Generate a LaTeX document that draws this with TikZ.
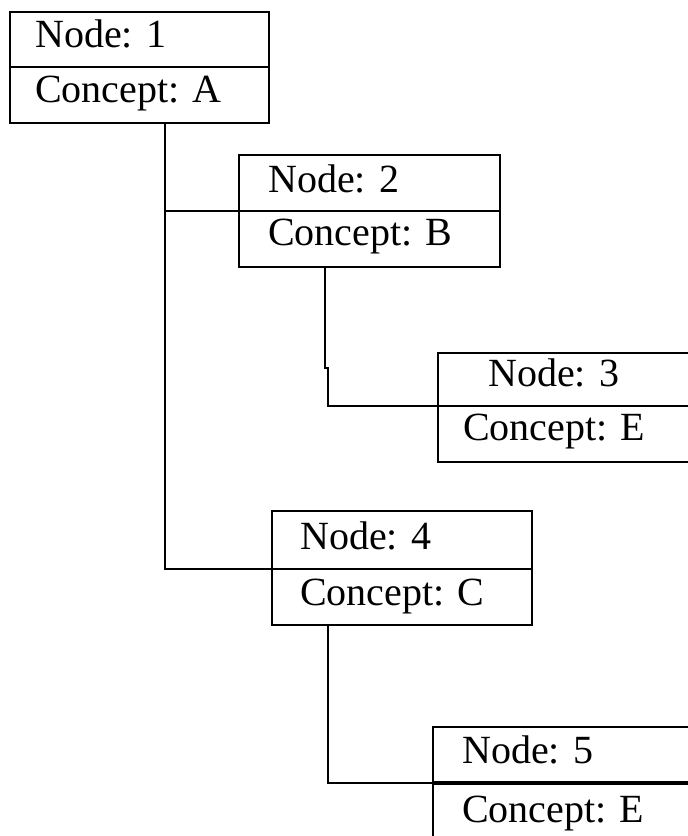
\documentclass[tikz,border=0pt]{standalone}
\usepackage{fontspec}
\setmainfont{Liberation Serif}
\begin{document}
\begin{tikzpicture}[x=1pt,y=-1pt,
  cell/.style={draw=black, line width=2pt, fill=none, inner sep=0pt, outer sep=0pt, anchor=north west},
  lbl/.style={anchor=base west, inner sep=0pt, font=\fontsize{40}{48}\selectfont},
  link/.style={draw=black, line width=2pt}]
\useasboundingbox (0,0) rectangle (688,836);
\clip (0,0) rectangle (688,836);
\fill[white] (0,0) rectangle (688,836);
% box 1
\node[cell, minimum width=259pt, minimum height=55pt] (b1t) at (10,12) {};
\node[cell, minimum width=259pt, minimum height=56pt] (b1b) at (10,67) {};
\node[lbl] (t1a) at (35,47) {Node: 1};
\node[lbl] (t1b) at (35,102) {Concept: A};
% box 2
\node[cell, minimum width=261pt, minimum height=56pt] (b2t) at (239,155) {};
\node[cell, minimum width=261pt, minimum height=56pt] (b2b) at (239,211) {};
\node[lbl] (t2a) at (268,192) {Node: 2};
\node[lbl] (t2b) at (268,245) {Concept: B};
% box 3
\node[cell, minimum width=300pt, minimum height=53pt] (b3t) at (438,353) {};
\node[cell, minimum width=300pt, minimum height=56pt] (b3b) at (438,406) {};
\node[lbl] (t3a) at (488,386) {Node: 3};
\node[lbl] (t3b) at (463,440) {Concept: E};
% box 4
\node[cell, minimum width=260pt, minimum height=58pt] (b4t) at (272,511) {};
\node[cell, minimum width=260pt, minimum height=56pt] (b4b) at (272,569) {};
\node[lbl] (t4a) at (300,549) {Node: 4};
\node[lbl] (t4b) at (300,605) {Concept: C};
% box 5
\node[cell, minimum width=300pt, minimum height=56pt] (b5t) at (433,727) {};
\node[cell, minimum width=300pt, minimum height=80pt] (b5b) at (433,783) {};
\node[lbl] (t5a) at (462,763) {Node: 5};
\node[lbl] (t5b) at (462,822) {Concept: E};
\draw[line width=4pt] (b5b.north west) -- (b5b.north east);
% connectors
\coordinate (c1) at (165,0);
\coordinate (c2) at (325,0);
\coordinate (c4) at (328,0);
\coordinate (jogA) at (325,368);
\coordinate (jogB) at (328,368);
\draw[link] (c1 |- b1b.south) |- (b4t.south west);
\draw[link] (c1 |- b2t.south) -- (b2t.south west);
\draw[link] (c2 |- b2b.south) -- (jogA) -- (jogB) |- (b3t.south west);
\draw[link] (c4 |- b4b.south) |- (b5t.south west);
\end{tikzpicture}
\end{document}
